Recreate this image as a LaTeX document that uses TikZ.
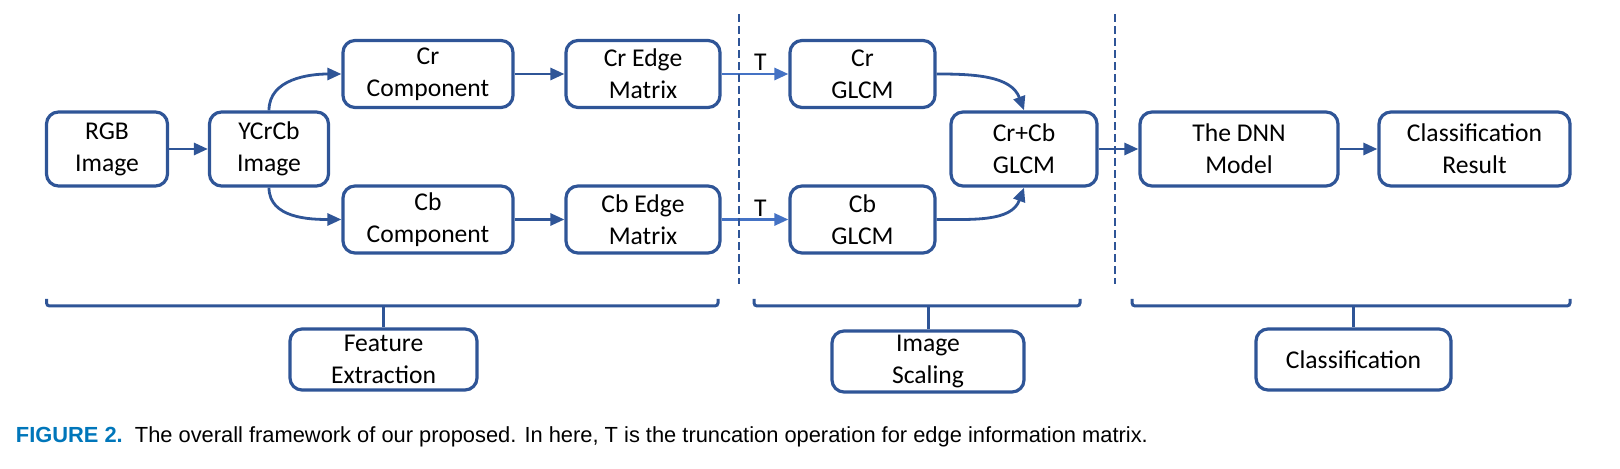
\documentclass[tikz,border=0pt]{standalone}
\usepackage{graphicx}
\usepackage{fontspec}
\setmainfont{Carlito}
\newfontfamily\capfont{Liberation Sans}
\usetikzlibrary{arrows.meta}
\definecolor{dblue}{RGB}{47,85,151}
\definecolor{lblue}{RGB}{68,114,196}
\definecolor{capblue}{RGB}{0,118,186}
\begin{document}
\begin{tikzpicture}[x=0.5pt,y=0.5pt,
  box/.style={draw=dblue, line width=1.6pt, rounded corners=6pt, align=center, inner sep=0pt,
    font=\fontsize{12.8}{16}\selectfont, text=black},
  arr/.style={draw=dblue, line width=1.4pt, -{Triangle[length=7pt,width=6pt]}},
  tarr/.style={arr, draw=lblue},
  dline/.style={draw=dblue, line width=1.3pt, dash pattern=on 4pt off 2pt},
  brk/.style={draw=dblue, line width=1.5pt, rounded corners=1.5pt},
  tlabel/.style={font=\fontsize{12.8}{16}\selectfont, inner sep=1pt}
]
\useasboundingbox (0,0) rectangle (1620,469);

\node[box, minimum width=60.5pt, minimum height=37pt] (rgb) at (107,320) {RGB\\Image};
\node[box, minimum width=59.5pt, minimum height=37pt] (ycc) at (269,320) {YCrCb\\Image};
\node[box, minimum width=85pt, minimum height=33.5pt] (crc) at (428,395) {Cr\\Component};
\node[box, minimum width=85pt, minimum height=33.5pt] (cbc) at (428,249.5) {Cb\\Component};
\node[box, minimum width=77pt, minimum height=33.5pt] (cre) at (643,395) {Cr Edge\\Matrix};
\node[box, minimum width=77pt, minimum height=33.5pt] (cbe) at (643,249.5) {Cb Edge\\Matrix};
\node[box, minimum width=72.5pt, minimum height=33.5pt] (crg) at (862.5,395) {Cr\\GLCM};
\node[box, minimum width=72.5pt, minimum height=33.5pt] (cbg) at (862.5,249.5) {Cb\\GLCM};
\node[box, minimum width=73pt, minimum height=37pt] (crcb) at (1024,320) {Cr+Cb\\GLCM};
\node[box, minimum width=99pt, minimum height=37pt] (dnn) at (1239,320) {The DNN\\Model};
\node[box, minimum width=95.5pt, minimum height=37pt] (res) at (1474.5,320) {Classification\\Result};
\node[box, minimum width=93.5pt, minimum height=30.5pt] (fe) at (383.5,109.5) {Feature\\Extraction};
\node[box, minimum width=96pt, minimum height=30.5pt] (is) at (928,107.5) {Image\\Scaling};
\node[box, minimum width=97.5pt, minimum height=30.5pt] (cls) at (1353.5,109.5) {Classification};

\draw[arr] (rgb) -- (ycc);
\draw[arr] (ycc.north) to[out=90,in=180] (crc.west);
\draw[arr] (ycc.south) to[out=-90,in=180] (cbc.west);
\draw[arr] (crc) -- (cre);
\draw[arr] (cbc) -- (cbe);
\draw[tarr] (cre) -- node[tlabel, above, pos=0.58] (t1) {T} (crg);
\draw[tarr] (cbe) -- node[tlabel, above, pos=0.58] (t2) {T} (cbg);
\draw[arr] (crg.east) to[out=0,in=110] (crcb.north);
\draw[arr] (cbg.east) to[out=0,in=-110] (crcb.south);
\draw[arr] (crcb) -- (dnn);
\draw[arr] (dnn) -- (res);

\coordinate (d1t) at (739,454.5); \coordinate (d1b) at (739,185);
\coordinate (d2t) at (1115,454.5); \coordinate (d2b) at (1115,185);
\draw[dline] (d1t) -- (d1b);
\draw[dline] (d2t) -- (d2b);

\coordinate (b1) at (383.5,163);
\coordinate (b2) at (928,163);
\coordinate (b3) at (1353.5,163);
\draw[brk] (46.5,170) -- (46.5,163) -- (718,163) -- (718,170);
\draw[brk] (754,170) -- (754,163) -- (1080,163) -- (1080,170);
\draw[brk] (1132,170) -- (1132,163) -- (1570,163) -- (1570,170);
\draw[brk] (b1) -- (fe.north);
\draw[brk] (b2) -- (is.north);
\draw[brk] (b3) -- (cls.north);

\node[anchor=west, inner sep=0pt] (cap) at (15.5,32) {\resizebox{566pt}{!}{\capfont\textcolor{capblue}{\textbf{FIGURE 2.}}\ \ The overall framework of our proposed. In here, T is the truncation operation for edge information matrix.}};
\end{tikzpicture}
\end{document}
